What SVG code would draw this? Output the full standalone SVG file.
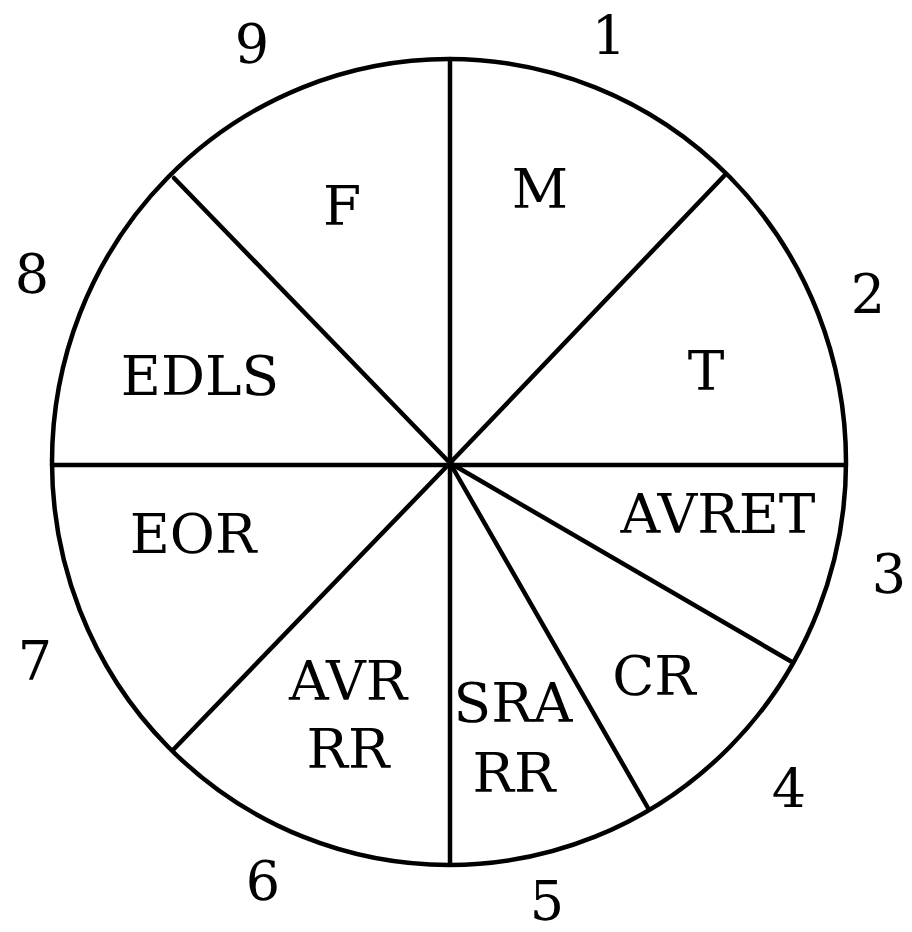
<svg xmlns="http://www.w3.org/2000/svg" width="912" height="932" viewBox="0 0 912 932">
<style>
.ln{stroke:#000;stroke-width:4.5;fill:none;stroke-linecap:round}
.t{font-family:"DejaVu Serif","Liberation Serif",serif;font-size:55px;fill:#000;text-anchor:middle}
.n{font-family:"DejaVu Serif","Liberation Serif",serif;font-size:54px;fill:#000;text-anchor:middle}
</style>
<rect width="912" height="932" fill="#fff"/>
<g id="connectors">
<ellipse class="ln" cx="449" cy="462" rx="397" ry="403"/>
<line class="ln" x1="450" y1="59" x2="450" y2="864"/>
<line class="ln" x1="52" y1="465" x2="846" y2="465"/>
<line class="ln" x1="450" y1="463" x2="724" y2="176"/>
<line class="ln" x1="450" y1="463" x2="174" y2="178"/>
<line class="ln" x1="450" y1="463" x2="173" y2="750"/>
<line class="ln" x1="450" y1="463" x2="792" y2="662"/>
<line class="ln" x1="450" y1="463" x2="648" y2="808"/>
</g>
<g id="sector-M"><text class="t" x="540" y="208">M</text></g>
<g id="sector-F"><text class="t" x="342" y="225">F</text></g>
<g id="sector-T"><text class="t" x="706" y="390">T</text></g>
<g id="sector-EDLS"><text class="t" x="200" y="395">EDLS</text></g>
<g id="sector-AVRET"><text class="t" x="718" y="533">AVRET</text></g>
<g id="sector-EOR"><text class="t" x="193" y="553">EOR</text></g>
<g id="sector-AVRRR"><text class="t" x="348" y="700">AVR</text><text class="t" x="348" y="768">RR</text></g>
<g id="sector-SRARR"><text class="t" x="513" y="722">SRA</text><text class="t" x="514" y="792">RR</text></g>
<g id="sector-CR"><text class="t" x="654" y="695">CR</text></g>
<g id="numbers">
<text class="n" x="609" y="55">1</text>
<text class="n" x="868" y="313">2</text>
<text class="n" x="889" y="593">3</text>
<text class="n" x="789" y="808">4</text>
<text class="n" x="547" y="920">5</text>
<text class="n" x="263" y="900">6</text>
<text class="n" x="35" y="680">7</text>
<text class="n" x="32" y="293">8</text>
<text class="n" x="252" y="63">9</text>
</g>
</svg>
